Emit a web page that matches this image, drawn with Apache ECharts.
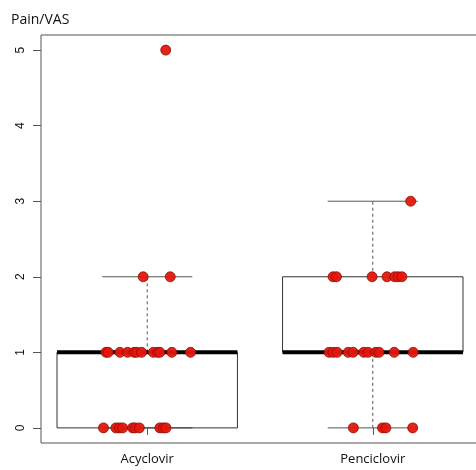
<!DOCTYPE html>
<html>
<head>
<meta charset="utf-8">
<script src="https://cdn.jsdelivr.net/npm/echarts@6/dist/echarts.min.js"></script>
<style>
  html, body { margin: 0; padding: 0; background: #fff; }
  #chart { width: 476px; height: 470px; }
</style>
</head>
<body>
<div id="chart"></div>
<script>
// ---- data ----
const categories = ['Acyclovir', 'Penciclovir'];
const categoryPositions = [1, 2];
const yTicks = [0, 1, 2, 3, 4, 5];

// box statistics: [lower whisker, Q1, median, Q3, upper whisker]
const acyclovirStats = [0, 0, 1, 1, 2];
const penciclovirStats = [0, 1, 1, 2, 3];

// individual observations (pain score) and their jittered x positions
const acyclovirPain = [0,0,0,0,0,0,0,0,0,0, 1,1,1,1,1,1,1,1,1,1,1,1, 2,2, 5];
const acyclovirJitterX = [0.806,0.861,0.876,0.891,0.935,0.946,0.965,1.056,1.071,1.083,
  0.817,0.827,0.879,0.913,0.942,0.953,0.975,1.027,1.046,1.056,1.109,1.192,
  0.982,1.102, 1.082];
const penciclovirPain = [0,0,0,0, 1,1,1,1,1,1,1,1,1,1,1, 2,2,2,2,2,2,2, 3];
const penciclovirJitterX = [1.914,2.043,2.058,2.177,
  1.806,1.824,1.842,1.891,1.913,1.960,1.979,2.013,2.028,2.095,2.179,
  1.824,1.839,1.997,2.063,2.097,2.112,2.129,
  2.168];

// ---- build series data ----
const boxData = [
  [categoryPositions[0]].concat(acyclovirStats),
  [categoryPositions[1]].concat(penciclovirStats)
];
const points = [];
acyclovirPain.forEach((v, i) => points.push([acyclovirJitterX[i], v]));
penciclovirPain.forEach((v, i) => points.push([penciclovirJitterX[i], v]));

const chart = echarts.init(document.getElementById('chart'), null, { renderer: 'canvas' });

function renderBox(params, api) {
  const x = api.value(0);
  const lo = api.value(1), q1 = api.value(2), med = api.value(3), q3 = api.value(4), hi = api.value(5);
  const hw = 0.4, cw = 0.2;
  const c = (a, b) => api.coord([a, b]);
  const whiskerStyle = { stroke: '#555', lineWidth: 1, lineDash: [3, 3], fill: null };
  const capStyle = { stroke: '#555', lineWidth: 1, fill: null };
  const pUpA = c(x, q3), pUpB = c(x, hi);
  const pLoA = c(x, lo), pLoB = c(x, q1);
  const capHiL = c(x - cw, hi), capHiR = c(x + cw, hi);
  const capLoL = c(x - cw, lo), capLoR = c(x + cw, lo);
  const tl = c(x - hw, q3), br = c(x + hw, q1);
  const mL = c(x - hw, med), mR = c(x + hw, med);
  return {
    type: 'group',
    children: [
      { type: 'line', shape: { x1: pUpA[0], y1: pUpA[1], x2: pUpB[0], y2: pUpB[1] }, style: whiskerStyle },
      { type: 'line', shape: { x1: pLoA[0], y1: pLoA[1], x2: pLoB[0], y2: pLoB[1] }, style: whiskerStyle },
      { type: 'line', shape: { x1: capHiL[0], y1: capHiL[1], x2: capHiR[0], y2: capHiR[1] }, style: capStyle },
      { type: 'line', shape: { x1: capLoL[0], y1: capLoL[1], x2: capLoR[0], y2: capLoR[1] }, style: capStyle },
      { type: 'rect', shape: { x: tl[0], y: tl[1], width: br[0] - tl[0], height: br[1] - tl[1] },
        style: { stroke: '#333', lineWidth: 1, fill: null } },
      { type: 'line', shape: { x1: mL[0], y1: mL[1], x2: mR[0], y2: mR[1] },
        style: { stroke: '#000', lineWidth: 4 } }
    ]
  };
}

const option = {
  animation: false,
  backgroundColor: '#fff',
  title: {
    text: 'Pain/VAS',
    left: 6,
    top: 8,
    textStyle: { fontFamily: 'Open Sans', fontSize: 14, fontWeight: 'normal', color: '#111' }
  },
  grid: {
    left: 41, top: 35, width: 438, height: 408,
    outerBoundsMode: 'none',
    containLabel: false,
    show: true, borderColor: '#555', borderWidth: 1, backgroundColor: 'transparent'
  },
  xAxis: {
    type: 'value',
    min: 0.529,
    max: 2.471,
    axisLine: { show: false },
    splitLine: { show: false },
    axisTick: { show: true, customValues: categoryPositions, length: 7, lineStyle: { color: '#555' } },
    axisLabel: {
      customValues: categoryPositions,
      margin: 10,
      fontFamily: 'Open Sans', fontSize: 13, color: '#111',
      formatter: v => categories[categoryPositions.indexOf(v)] || ''
    }
  },
  yAxis: {
    type: 'value',
    min: -0.2,
    max: 5.2,
    axisLine: { show: false },
    splitLine: { show: false },
    axisTick: { show: true, customValues: yTicks, length: 8, lineStyle: { color: '#555' } },
    axisLabel: {
      customValues: yTicks,
      rotate: 90,
      margin: 14,
      fontFamily: 'Liberation Sans', fontSize: 12, color: '#111'
    }
  },
  series: [
    {
      type: 'custom',
      renderItem: renderBox,
      encode: { x: 0, y: [1, 2, 3, 4, 5] },
      data: boxData,
      z: 2,
      silent: true
    },
    {
      type: 'scatter',
      data: points,
      symbol: 'circle',
      symbolSize: 10,
      itemStyle: { color: '#e3170d', borderColor: '#8a0a05', borderWidth: 0.8, opacity: 0.95 },
      z: 5,
      silent: true
    }
  ]
};
chart.setOption(option);
</script>
</body>
</html>
